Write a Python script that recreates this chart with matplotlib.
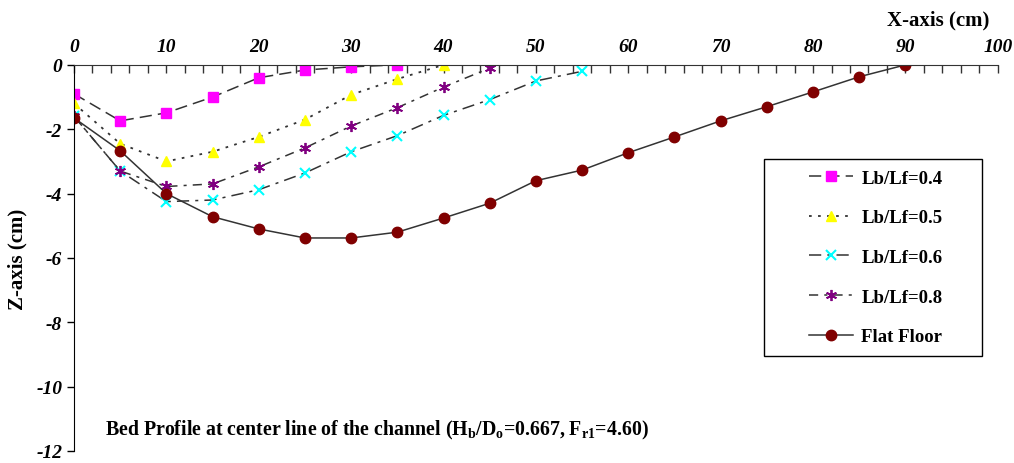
import matplotlib.pyplot as plt
from matplotlib.patches import Rectangle

plt.rcParams['font.family'] = 'Liberation Serif'
plt.rcParams['font.weight'] = 'bold'

# Data
x_04 = [0, 5, 10, 15, 20, 25, 30, 35]
z_04 = [-0.9, -1.74, -1.49, -1.0, -0.4, -0.16, -0.06, 0.0]

x_05 = [0, 5, 10, 15, 20, 25, 30, 35, 40]
z_05 = [-1.2, -2.45, -3.0, -2.7, -2.24, -1.7, -0.93, -0.44, 0.0]

x_06 = [0, 5, 10, 15, 20, 25, 30, 35, 40, 45, 50, 55]
z_06 = [-1.6, -3.3, -4.25, -4.2, -3.88, -3.36, -2.7, -2.2, -1.57, -1.08, -0.5, -0.2]

x_08 = [0, 5, 10, 15, 20, 25, 30, 35, 40, 45]
z_08 = [-1.6, -3.3, -3.78, -3.7, -3.17, -2.58, -1.9, -1.33, -0.69, -0.1]

x_flat = [0, 5, 10, 15, 20, 25, 30, 35, 40, 45, 50, 55, 60, 65, 70, 75, 80, 85, 90]
z_flat = [-1.65, -2.67, -4.0, -4.72, -5.1, -5.38, -5.38, -5.2, -4.76, -4.3,
          -3.6, -3.27, -2.73, -2.24, -1.74, -1.3, -0.84, -0.37, 0.0]

fig = plt.figure(figsize=(10.14, 4.64), dpi=100)
ax = fig.add_axes([0.073, 0.026, 0.911, 0.832])

lc = '#333333'
ax.plot(x_04, z_04, color=lc, lw=1.1, dashes=(8, 4), marker='s', ms=7.5,
        mfc='#FF00FF', mec='#FF00FF', label='Lb/Lf=0.4')
ax.plot(x_05, z_05, color=lc, lw=1.3, dashes=(1.5, 3.5), marker='^', ms=7.5,
        mfc='#FFFF00', mec='#FFFF00', label='Lb/Lf=0.5')
ax.plot(x_06, z_06, color=lc, lw=1.1, dashes=(8, 4, 2, 4), marker='x', ms=7, mew=1.5,
        mfc='#00FFFF', mec='#00FFFF', label='Lb/Lf=0.6')
ax.plot(x_08, z_08, color=lc, lw=1.1, dashes=(6, 4, 2, 4), marker=(6, 2, 0), ms=8, mew=1.3,
        mfc='#800080', mec='#800080', label='Lb/Lf=0.8')
ax.plot(x_flat, z_flat, color=lc, lw=1.1, marker='o', ms=7.5,
        mfc='#800000', mec='#800000', label='Flat Floor')

ax.set_xlim(0, 100)
ax.set_ylim(-12, 0)

ax.spines['right'].set_visible(False)
ax.spines['bottom'].set_visible(False)
ax.spines['top'].set_color('#333333')
ax.spines['left'].set_color('black')

ax.xaxis.set_ticks_position('top')
ax.set_xticks(range(0, 101, 10))
ax.set_xticks(range(0, 101, 2), minor=True)
ax.tick_params(axis='x', which='both', direction='in', length=6, width=1, pad=7,
               labelsize=14, color='#333333')
ax.set_xticklabels([str(v) for v in range(0, 101, 10)], style='italic', fontweight='bold')

ax.set_yticks(range(-12, 1, 2))
ax.tick_params(axis='y', direction='out', length=5, width=1, labelsize=14)
ax.set_yticklabels([str(v) for v in range(-12, 1, 2)], style='italic', fontweight='bold')

ax.set_ylabel('Z-axis (cm)', fontsize=15, fontweight='bold', labelpad=6)
fig.text(0.976, 0.955, 'X-axis (cm)', ha='right', va='center', fontsize=15, fontweight='bold')

ax.text(0.033, 0.055,
        r'Bed Profile at center line of the channel (H$\mathregular{_b}$/D$\mathregular{_o}$=0.667, '
        r'F$\mathregular{_{r1}}$=4.60)',
        transform=ax.transAxes, fontsize=14.3, fontweight='bold', va='center')

# legend frame drawn as its own box
box_x, box_y, box_w, box_h = 0.7468, 0.2461, 0.236, 0.5104
ax.add_patch(Rectangle((box_x, box_y), box_w, box_h, transform=ax.transAxes,
                       fill=True, facecolor='white', edgecolor='black', lw=1.0, zorder=5))
leg = ax.legend(loc='center', bbox_to_anchor=(box_x + box_w / 2 + 0.003, box_y + box_h / 2),
                frameon=False, handlelength=2.35, handletextpad=0.45, labelspacing=1.2,
                prop={'weight': 'bold', 'size': 13.5})
leg.set_zorder(6)

fig.savefig('out.png', dpi=100)
